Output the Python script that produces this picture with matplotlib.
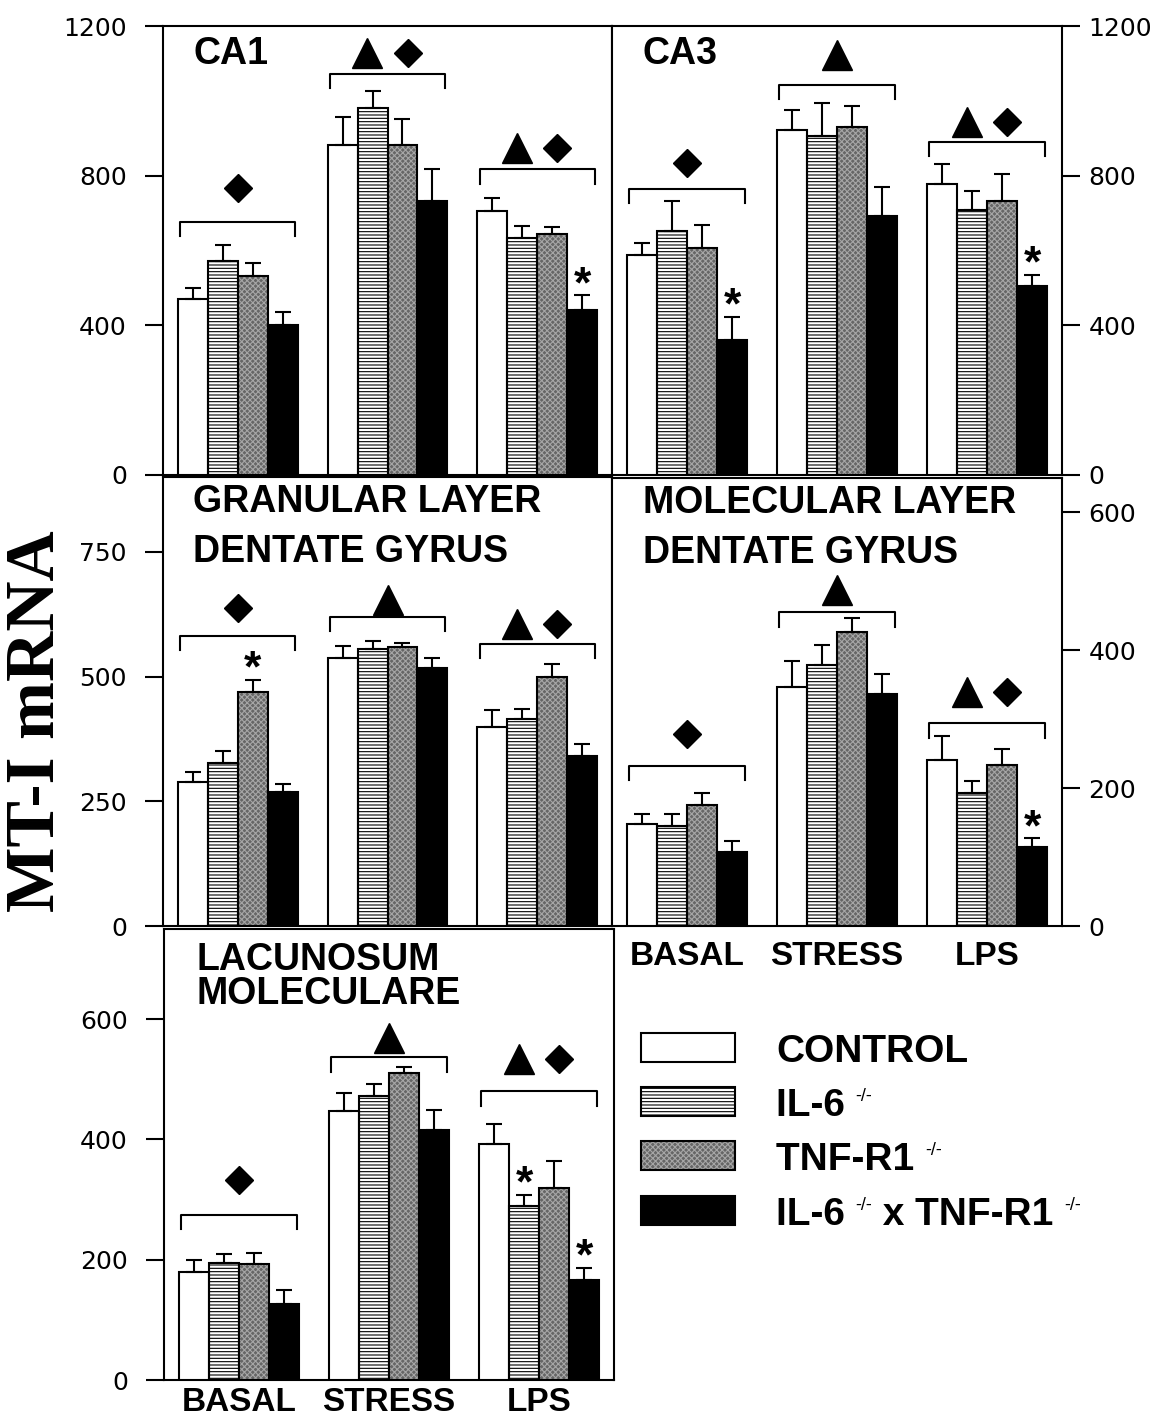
import numpy as np
import matplotlib
matplotlib.use("Agg")
import matplotlib.pyplot as plt
from matplotlib.patches import Rectangle

plt.rcParams['font.family'] = ['Liberation Sans', 'DejaVu Sans']
plt.rcParams['hatch.linewidth'] = 0.8

# conditions along x, genotypes inside each group
conditions = ['BASAL', 'STRESS', 'LPS']
genotypes = ['CONTROL', 'IL-6', 'TNF-R1', 'IL-6 x TNF-R1']

# mean MT-I mRNA, rows = condition, columns = genotype
ca1_mean = [[470, 573, 532, 401], [881, 982, 882, 732], [706, 634, 643, 441]]
ca1_sem = [[29, 41, 34, 35], [75, 45, 69, 85], [35, 32, 19, 39]]
ca3_mean = [[587, 652, 606, 360], [923, 905, 930, 693], [777, 709, 733, 505]]
ca3_sem = [[33, 79, 61, 62], [53, 90, 57, 78], [55, 51, 72, 30]]
gran_mean = [[288, 326, 469, 269], [537, 555, 560, 517], [398, 414, 499, 340]]
gran_sem = [[21, 24, 25, 16], [25, 17, 8, 21], [35, 21, 27, 25]]
mol_mean = [[148, 145, 175, 107], [347, 379, 426, 337], [241, 193, 234, 114]]
mol_sem = [[14, 17, 18, 17], [38, 28, 21, 29], [35, 17, 23, 13]]
lac_mean = [[179, 195, 193, 127], [447, 473, 510, 416], [392, 290, 319, 167]]
lac_sem = [[20, 14, 18, 22], [31, 20, 10, 33], [33, 18, 45, 19]]

# significance: bracket level, symbol level, symbols per condition
ca1_bracket = [677, 1072, 817]
ca1_symbol = [767, 1127, 873]
ca3_bracket = [765, 1043, 891]
ca3_symbol = [833, 1123, 943]
gran_bracket = [582, 620, 565]
gran_symbol = [637, 654, 606]
mol_bracket = [232, 455, 294]
mol_symbol = [279, 488, 339]
lac_bracket = [275, 537, 480]
lac_symbol = [332, 569, 533]
ca1_marks = ['D', '^D', '^D']
other_marks = ['D', '^', '^D']

# (condition, genotype) pairs with an asterisk
ca1_stars = [(2, 3)]
ca3_stars = [(0, 3), (2, 3)]
gran_stars = [(0, 2)]
mol_stars = [(2, 3)]
lac_stars = [(2, 1), (2, 3)]

# bar styles: face, hatch, hatch colour
styles = [('white', None, None),
          ('white', '-----', 'black'),
          ('#666666', 'xxxxxx', '#a6a6a6'),
          ('black', None, None)]

W = 0.2
offsets = np.array([-0.3, -0.1, 0.1, 0.3])

fig = plt.figure(figsize=(11.66, 14.23), dpi=100)


def px_axes(x0, y0, x1, y1):
    return fig.add_axes([x0 / 1166, 1 - y1 / 1423, (x1 - x0) / 1166, (y1 - y0) / 1423])


def draw_bars(ax, mean, sem):
    mean = np.array(mean)
    sem = np.array(sem)
    x = np.arange(len(conditions))
    for j in range(4):
        fc, hatch, hc = styles[j]
        if hatch:
            ax.bar(x + offsets[j], mean[:, j], W, facecolor=fc, hatch=hatch,
                   edgecolor=hc, linewidth=0, zorder=2)
            ax.bar(x + offsets[j], mean[:, j], W, facecolor='none',
                   edgecolor='black', linewidth=1.5, zorder=3)
        else:
            ax.bar(x + offsets[j], mean[:, j], W, facecolor=fc,
                   edgecolor='black', linewidth=1.5, zorder=3)
        ax.errorbar(x + offsets[j], mean[:, j], yerr=[np.zeros(3), sem[:, j]],
                    fmt='none', ecolor='black', elinewidth=1.5, capsize=6,
                    capthick=1.5, zorder=4)


def draw_signif(ax, ymax, bracket, symbol, marks, stars, mean, sem):
    drop = 0.032 * ymax
    for i in range(3):
        ax.plot([i - 0.385, i - 0.385, i + 0.385, i + 0.385],
                [bracket[i] - drop, bracket[i], bracket[i], bracket[i] - drop],
                color='black', lw=1.5, zorder=5)
        m = marks[i]
        if len(m) == 1:
            xs = [i]
        else:
            xs = [i - 0.135, i + 0.135]
        for xx, mk in zip(xs, m):
            ax.plot(xx, symbol[i], marker=mk, ms=21 if mk == '^' else 14.5,
                    color='black', ls='none', zorder=5, clip_on=False)
    for c, g in stars:
        top = mean[c][g] + sem[c][g]
        ax.text(c + offsets[g], top + 0.022 * ymax, '*', ha='center', va='center',
                fontsize=32, fontweight='bold', zorder=6)


def style_axes(ax, ymax, ticks, side):
    ax.set_xlim(-0.5, 2.5)
    ax.set_ylim(0, ymax)
    for s in ax.spines.values():
        s.set_linewidth(1.5)
    ax.set_xticks([])
    ax.set_yticks(ticks)
    ax.set_yticklabels([str(t) for t in ticks], fontfamily='DejaVu Sans')
    if side == 'right':
        ax.yaxis.tick_right()
        ax.tick_params(axis='y', direction='out', length=13, width=1.5,
                       labelsize=18, pad=6)
    else:
        ax.tick_params(axis='y', direction='out', length=13, width=1.5,
                       labelsize=18, pad=13)


def title(ax, x, y, txt, ls=1.2):
    ax.text(x, y, txt, transform=ax.transAxes, ha='left', va='top',
            fontsize=27, fontweight='bold', linespacing=ls, zorder=7)


# CA1
ax1 = px_axes(163, 26, 612, 475)
draw_bars(ax1, ca1_mean, ca1_sem)
draw_signif(ax1, 1200, ca1_bracket, ca1_symbol, ca1_marks, ca1_stars, ca1_mean, ca1_sem)
style_axes(ax1, 1200, [0, 400, 800, 1200], 'left')
title(ax1, 0.067, 0.978, 'CA1')

# CA3
ax2 = px_axes(612, 26, 1062, 475)
draw_bars(ax2, ca3_mean, ca3_sem)
draw_signif(ax2, 1200, ca3_bracket, ca3_symbol, other_marks, ca3_stars, ca3_mean, ca3_sem)
style_axes(ax2, 1200, [0, 400, 800, 1200], 'right')
title(ax2, 0.068, 0.978, 'CA3')

# granular layer
ax3 = px_axes(163, 477, 612, 926)
draw_bars(ax3, gran_mean, gran_sem)
draw_signif(ax3, 900, gran_bracket, gran_symbol, other_marks, gran_stars, gran_mean, gran_sem)
style_axes(ax3, 900, [0, 250, 500, 750], 'left')
title(ax3, 0.067, 0.985, 'GRANULAR LAYER\nDENTATE GYRUS', ls=1.5)

# molecular layer
ax4 = px_axes(612, 478, 1062, 926)
draw_bars(ax4, mol_mean, mol_sem)
draw_signif(ax4, 650, mol_bracket, mol_symbol, other_marks, mol_stars, mol_mean, mol_sem)
style_axes(ax4, 650, [0, 200, 400, 600], 'right')
title(ax4, 0.068, 0.984, 'MOLECULAR LAYER\nDENTATE GYRUS', ls=1.5)

# lacunosum moleculare
ax5 = px_axes(164, 929, 614, 1380)
draw_bars(ax5, lac_mean, lac_sem)
draw_signif(ax5, 750, lac_bracket, lac_symbol, other_marks, lac_stars, lac_mean, lac_sem)
style_axes(ax5, 750, [0, 200, 400, 600], 'left')
title(ax5, 0.073, 0.972, 'LACUNOSUM\nMOLECULARE', ls=0.95)

for ax, pad in ((ax4, 11), (ax5, 5)):
    ax.set_xticks(range(3))
    ax.set_xticklabels(conditions, fontsize=24, fontweight='bold')
    ax.tick_params(axis='x', length=0, pad=pad)

fig.text(37 / 1166, 1 - 721 / 1423, 'MT-I mRNA', rotation=90, ha='center',
         va='center', fontsize=50, fontweight='bold', family='Liberation Serif')

# legend drawn on a pixel overlay
lax = fig.add_axes([0, 0, 1, 1])
lax.set_xlim(0, 1166)
lax.set_ylim(1423, 0)
lax.axis('off')

row_y = [1047, 1101.5, 1155.5, 1210.5]
for j, yc in enumerate(row_y):
    fc, hatch, hc = styles[j]
    if hatch:
        lax.add_patch(Rectangle((641, yc - 14.5), 94, 29, facecolor=fc, hatch=hatch,
                                edgecolor=hc, linewidth=0))
        lax.add_patch(Rectangle((641, yc - 14.5), 94, 29, facecolor='none',
                                edgecolor='black', linewidth=1.5))
    else:
        lax.add_patch(Rectangle((641, yc - 14.5), 94, 29, facecolor=fc,
                                edgecolor='black', linewidth=1.5))

fig.canvas.draw()
renderer = fig.canvas.get_renderer()


def write_row(x, y, pieces):
    for s, size, weight, dy in pieces:
        t = lax.text(x, y - dy, s, fontsize=size, fontweight=weight,
                     ha='left', va='baseline')
        x += t.get_window_extent(renderer).width


sup = '-/-'
rows = [
    [('CONTROL', 28, 'bold', 0)],
    [('IL-6 ', 28, 'bold', 0), (sup, 13, 'normal', 15)],
    [('TNF-R1 ', 28, 'bold', 0), (sup, 13, 'normal', 15)],
    [('IL-6 ', 28, 'bold', 0), (sup, 13, 'normal', 15), (' x TNF-R1 ', 28, 'bold', 0),
     (sup, 13, 'normal', 15)],
]
for yc, pieces in zip(row_y, rows):
    write_row(776, yc + 14.5, pieces)

fig.savefig('out.png', dpi=100, facecolor='white')
